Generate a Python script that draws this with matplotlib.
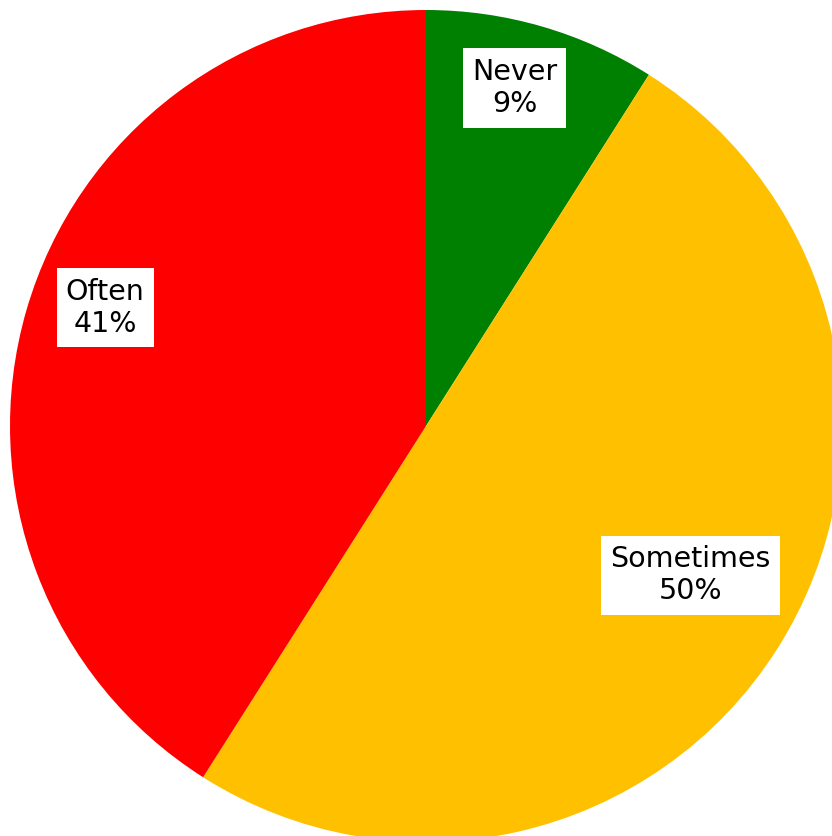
import numpy as np
import matplotlib
matplotlib.use('Agg')
import matplotlib.pyplot as plt

labels = ['Never', 'Sometimes', 'Often']
shares = [9, 50, 41]
colors = ['#008000', '#FFC000', '#FF0000']
# radial position of each label box, as fraction of radius
label_dist = [0.84, 0.73, 0.822]
label_shift = [1.5, 3.0, -4.0]  # degrees of extra rotation for placement

W, H = 832, 836
fig = plt.figure(figsize=(W / 100, H / 100), dpi=100)
cx, cy, r = 426, 426, 416
ax = fig.add_axes([(cx - r) / W, (H - cy - r) / H, 2 * r / W, 2 * r / H])

wedges, _ = ax.pie(shares, colors=colors, startangle=90, counterclock=False,
                   radius=1, wedgeprops=dict(linewidth=0))
for w in wedges:
    w.set_clip_on(False)
ax.set_xlim(-1, 1)
ax.set_ylim(-1, 1)
ax.axis('off')

for w, lab, s, d, sh in zip(wedges, labels, shares, label_dist, label_shift):
    mid = np.deg2rad((w.theta1 + w.theta2) / 2 + sh)
    ax.text(d * np.cos(mid), d * np.sin(mid), f'{lab}\n{s}%',
            ha='center', va='center', fontsize=20.5, linespacing=1.22,
            family='DejaVu Sans',
            bbox=dict(boxstyle='square,pad=0.32', fc='white', ec='none'))

fig.savefig('out.png', dpi=100)
